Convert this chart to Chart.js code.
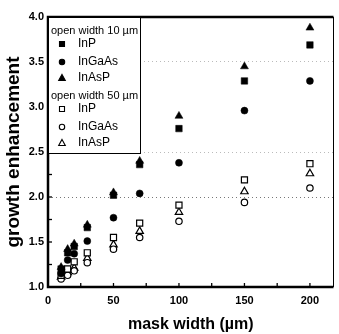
<!DOCTYPE html>
<html>
<head>
<meta charset="utf-8">
<script src="https://cdn.jsdelivr.net/npm/chart.js@4/dist/chart.umd.min.js"></script>
<style>
  html,body{margin:0;padding:0;background:#fff}
  #wrap{width:339px;height:334px}
</style>
</head>
<body>
<div id="wrap"><canvas id="c"></canvas></div>
<script>
/* ========= DATA ========= */
const maskWidth  = [10, 15, 20, 30, 50, 70, 100, 150, 200];
// open width 10 um
const inp10    = [1.20, 1.38, 1.45, 1.66, 2.02, 2.36, 2.76, 3.29, 3.69];
const ingaas10 = [1.15, 1.30, 1.37, 1.51, 1.77, 2.04, 2.38, 2.96, 3.29];
const inasp10  = [1.22, 1.42, 1.48, 1.69, 2.05, 2.40, 2.90, 3.45, 3.88];
// open width 50 um
const inp50    = [1.13, 1.20, 1.28, 1.38, 1.55, 1.71, 1.91, 2.19, 2.37];
const ingaas50 = [1.09, 1.13, 1.18, 1.27, 1.42, 1.55, 1.73, 1.94, 2.10];
const inasp50  = [1.11, 1.16, 1.21, 1.32, 1.47, 1.62, 1.83, 2.06, 2.26];

const xTicks = [0, 50, 100, 150, 200];
const yTicks = [1.0, 1.5, 2.0, 2.5, 3.0, 3.5, 4.0];
const dottedLines = [2.0, 2.5, 3.5];

const FONT = "'Liberation Sans', Arial, sans-serif";

/* ========= HELPERS ========= */
const pts = ys => ys.map((y, i) => ({x: maskWidth[i], y}));

function series(label, ys, shape, filled){
  const r = shape === "circle" ? 3.5 : 4.6;
  return {
    label,
    data: pts(ys),
    pointStyle: shape,
    pointRadius: filled ? r : r - 0.3,
    pointBackgroundColor: filled ? "#000" : "#fff",
    pointBorderColor: "#000",
    pointBorderWidth: filled ? 0.5 : 1.2,
    showLine: false
  };
}

/* ========= FRAME, INNER TICKS, LEGEND ========= */
const framePlugin = {
  id: "frame",
  afterDraw(chart){
    const {ctx, chartArea: a, scales: {x, y}} = chart;
    ctx.save();
    ctx.strokeStyle = "#000";

    // inner ticks
    ctx.lineWidth = 1.3;
    for(let v = 1.25; v < 4; v += 0.25){
      const py = y.getPixelForValue(v);
      ctx.beginPath(); ctx.moveTo(a.left, py); ctx.lineTo(a.left + 4, py); ctx.stroke();
    }
    for(let v = 25; v <= 200; v += 25){
      const px = x.getPixelForValue(v);
      ctx.beginPath(); ctx.moveTo(px, a.bottom); ctx.lineTo(px, a.bottom - 4); ctx.stroke();
    }

    // frame
    ctx.lineWidth = 1;
    ctx.beginPath(); ctx.moveTo(a.right, a.top); ctx.lineTo(a.right, a.bottom); ctx.stroke();
    ctx.lineWidth = 2.5;
    ctx.beginPath();
    ctx.moveTo(a.right, a.top); ctx.lineTo(a.left, a.top);
    ctx.lineTo(a.left, a.bottom); ctx.lineTo(a.right, a.bottom);
    ctx.stroke();

    // legend box
    const lx = a.left, ly = a.top, lw = 92, lh = 136;
    ctx.fillStyle = "#fff";
    ctx.fillRect(lx + 1, ly + 1, lw - 1, lh - 1);
    ctx.lineWidth = 1;
    ctx.strokeRect(lx + 0.5, ly + 0.5, lw, lh);

    const rows = [
      {head: "open width 10 \u00b5m", dy: 14},
      {ds: 0, dy: 27}, {ds: 1, dy: 45}, {ds: 2, dy: 61},
      {head: "open width 50 \u00b5m", dy: 79},
      {ds: 3, dy: 92}, {ds: 4, dy: 110}, {ds: 5, dy: 126}
    ];
    ctx.textBaseline = "middle";
    rows.forEach(r => {
      const cy = ly + r.dy;
      if(r.head){
        ctx.font = "11px " + FONT;
        ctx.fillStyle = "#000";
        ctx.fillText(r.head, lx + 3, cy);
        return;
      }
      const d = chart.data.datasets[r.ds];
      drawMarker(ctx, d.pointStyle, lx + 14, cy, d.pointBackgroundColor === "#000");
      ctx.font = "12px " + FONT;
      ctx.fillStyle = "#000";
      ctx.fillText(d.label, lx + 30, cy);
    });
    ctx.restore();
  }
};

function drawMarker(ctx, shape, cx, cy, filled){
  ctx.save();
  ctx.beginPath();
  if(shape === "rect"){
    ctx.rect(cx - 2.5, cy - 2.5, 5, 5);
  }else if(shape === "circle"){
    ctx.arc(cx, cy, 2.7, 0, Math.PI * 2);
  }else{
    ctx.moveTo(cx, cy - 3.5); ctx.lineTo(cx + 3.3, cy + 2.5); ctx.lineTo(cx - 3.3, cy + 2.5); ctx.closePath();
  }
  ctx.fillStyle = filled ? "#000" : "#fff";
  ctx.fill();
  ctx.lineWidth = 1.1;
  ctx.strokeStyle = "#000";
  ctx.stroke();
  ctx.restore();
}

/* ========= CHART ========= */
new Chart(document.getElementById("c"), {
  type: "scatter",
  data: {
    datasets: [
      series("InP",    inp10,    "rect",     true),
      series("InGaAs", ingaas10, "circle",   true),
      series("InAsP",  inasp10,  "triangle", true),
      series("InP",    inp50,    "rect",     false),
      series("InGaAs", ingaas50, "circle",   false),
      series("InAsP",  inasp50,  "triangle", false)
    ]
  },
  options: {
    responsive: true,
    maintainAspectRatio: false,
    animation: false,
    devicePixelRatio: 1,
    layout: {padding: {left: 0, right: 2, top: 17, bottom: 0}},
    plugins: {legend: {display: false}, tooltip: {enabled: false}},
    scales: {
      x: {
        type: "linear", min: 0, max: 218,
        afterBuildTicks: s => { s.ticks = xTicks.map(v => ({value: v})); },
        afterFit: s => { s.height = 47; },
        grid: {display: false, drawTicks: false},
        border: {display: false},
        ticks: {color: "#000", padding: 7, maxRotation: 0, font: {family: FONT, size: 11, weight: "bold"}},
        title: {display: true, text: "mask width (\u00b5m)", color: "#000", padding: {top: 3, bottom: 0},
                font: {family: FONT, size: 16, weight: "bold"}}
      },
      y: {
        min: 1, max: 4,
        afterBuildTicks: s => { s.ticks = yTicks.map(v => ({value: v})); },
        afterFit: s => { s.width = 48; },
        grid: {
          drawTicks: false,
          color: c => dottedLines.includes(c.tick.value) ? (c.tick.value === 2 ? "#777" : "#bbb") : "rgba(0,0,0,0)",
          lineWidth: 1
        },
        border: {display: false, dash: [1, 3]},
        ticks: {color: "#000", padding: 4, callback: v => v.toFixed(1), font: {family: FONT, size: 11, weight: "bold"}},
        title: {display: true, text: "growth enhancement", color: "#000", padding: {top: 2, bottom: 0},
                font: {family: FONT, size: 19, weight: "bold"}}
      }
    }
  },
  plugins: [framePlugin]
});
</script>
</body>
</html>
